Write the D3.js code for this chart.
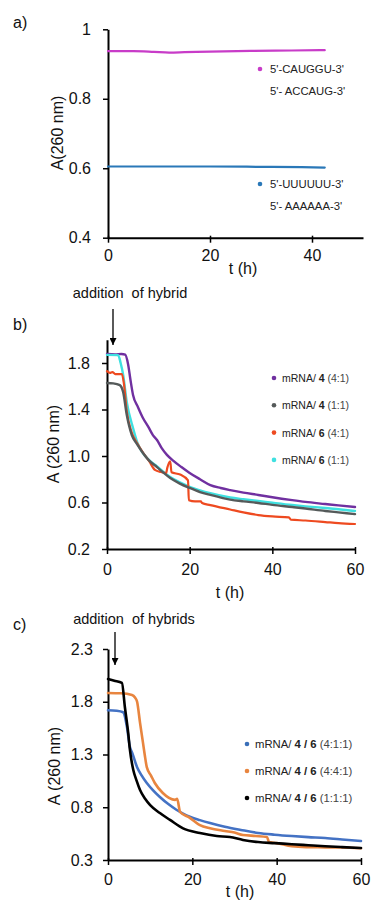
<!DOCTYPE html>
<html><head><meta charset="utf-8">
<script src="https://cdn.jsdelivr.net/npm/d3@7"></script>
<style>
body{margin:0;background:#fff;}
svg{display:block;font-family:"Liberation Sans",Arial,sans-serif;}
</style></head>
<body><svg id="c" width="372" height="901"></svg>
<script>
// ---------- DATA ----------
// Panel a
const aXTicks = [0, 20, 40];
const aYTicks = [0.4, 0.6, 0.8, 1];
const aMagenta = [[0,0.937],[5,0.937],[9,0.935],[12,0.933],[15,0.934],[20,0.936],[28,0.938],[36,0.939],[42.5,0.940]];
const aBlue = [[0,0.605],[10,0.605],[20,0.605],[30,0.604],[38,0.603],[42.5,0.602]];
const aLegend = [["5'-CAUGGU-3'","5'- ACCAUG-3'"],["5'-UUUUUU-3'","5'- AAAAAA-3'"]];

// Panel b
const bXTicks = [0, 20, 40, 60];
const bYTicks = [0.2, 0.6, 1.0, 1.4, 1.8];
const bPurple = [[0,1.877],[2,1.874],[3.5,1.878],[4.4,1.872],[5.1,1.79],[5.7,1.65],[6.3,1.525],[7.5,1.42],[8.7,1.327],[10,1.25],[11.1,1.18],[12.1,1.138],[13.2,1.07],[14.5,1.01],[16,0.96],[18,0.905],[20,0.854],[22.5,0.80],[25,0.75],[27.5,0.725],[29.8,0.707],[33,0.685],[36.6,0.665],[40,0.645],[44.8,0.62],[48,0.605],[52.8,0.587],[56,0.575],[60,0.561]];
const bGray = [[0,1.628],[1.5,1.625],[3.1,1.61],[3.9,1.55],[4.8,1.35],[6,1.18],[7.3,1.10],[8.7,1.026],[10.2,0.96],[12.1,0.905],[13.7,0.855],[15.3,0.81],[17.5,0.765],[20,0.725],[22.5,0.69],[25,0.665],[29.8,0.625],[33,0.61],[36.6,0.596],[40,0.58],[44.8,0.561],[48,0.548],[52.8,0.527],[56,0.515],[60,0.50]];
const bRed = [[0,1.73],[0.7,1.715],[1.3,1.722],[2,1.705],[3.6,1.705],[4.1,1.62],[4.8,1.38],[6,1.20],[7.3,1.11],[8.7,1.03],[10.2,0.955],[11.6,0.88],[13,0.862],[14.3,0.854],[14.6,0.90],[15.3,0.955],[15.6,0.86],[17.7,0.84],[19.6,0.79],[19.8,0.62],[21.3,0.61],[22.7,0.61],[23,0.596],[25,0.578],[29.8,0.54],[33,0.515],[36.6,0.492],[40,0.48],[44,0.472],[44.5,0.452],[48,0.445],[52.8,0.432],[56,0.423],[60,0.415]];
const bCyan = [[0,1.87],[2.7,1.868],[3.3,1.80],[3.9,1.70],[4.8,1.46],[6.3,1.24],[7.3,1.12],[8.4,1.04],[10.2,0.965],[12.1,0.91],[15.3,0.82],[17.5,0.775],[20,0.735],[22.5,0.705],[25,0.68],[29.8,0.643],[33,0.628],[36.6,0.613],[40,0.598],[44.8,0.578],[48,0.567],[52.8,0.553],[56,0.542],[60,0.527]];
const bLegend = [["mRNA/ ","4"," (4:1)"],["mRNA/ ","4"," (1:1)"],["mRNA/ ","6"," (4:1)"],["mRNA/ ","6"," (1:1)"]];

// Panel c
const cXTicks = [0, 20, 40, 60];
const cYTicks = [0.3, 0.8, 1.3, 1.8, 2.3];
const cBlue = [[0,1.72],[2,1.715],[3.6,1.70],[4.5,1.56],[5.2,1.37],[5.7,1.32],[6.9,1.18],[8,1.10],[9.2,1.03],[10.7,0.96],[12.3,0.897],[14.3,0.83],[16.3,0.774],[17.8,0.74],[19.4,0.71],[21.8,0.678],[24.2,0.65],[27.7,0.615],[31.5,0.585],[35.6,0.556],[39.5,0.54],[43.6,0.527],[47.5,0.517],[51.5,0.508],[55.5,0.495],[60,0.48]];
const cOrange = [[0,1.883],[3,1.88],[5.7,1.864],[6.4,1.84],[6.9,1.80],[7.6,1.60],[8.3,1.41],[8.7,1.30],[9.2,1.18],[10.2,1.10],[11.1,1.03],[13,0.935],[15.9,0.87],[16.4,0.88],[17.1,0.755],[19.4,0.70],[21.8,0.63],[24.2,0.60],[27.7,0.575],[30,0.56],[32,0.537],[35,0.528],[37.7,0.518],[38.2,0.47],[40,0.46],[43.6,0.43],[47,0.422],[51.5,0.42],[55.5,0.418],[60,0.412]];
const cBlack = [[0,2.016],[1.5,2.0],[3.3,1.978],[4,1.75],[4.8,1.50],[5.2,1.343],[6,1.153],[6.8,1.05],[7.6,0.963],[8.8,0.88],[10,0.82],[12.3,0.745],[14.7,0.68],[17.8,0.60],[21.8,0.556],[25.8,0.527],[28.9,0.518],[32,0.49],[35.6,0.47],[39.5,0.46],[43.6,0.45],[47.5,0.44],[51.5,0.43],[55.5,0.422],[60,0.414]];
const cLegend = [["mRNA/ ","4 / 6"," (4:1:1)"],["mRNA/ ","4 / 6"," (4:4:1)"],["mRNA/ ","4 / 6"," (1:1:1)"]];

// ---------- DRAW ----------
const svg = d3.select("#c");
const FONT = 16;

function panel(o){
  const g = svg.append("g");
  const x = d3.scaleLinear().domain(o.xd).range(o.xr);
  const y = d3.scaleLinear().domain(o.yd).range(o.yr);
  const ya = g.append("g").attr("transform",`translate(${o.xr[0]},0)`)
    .call(d3.axisLeft(y).tickValues(o.yt).tickFormat(o.yf).tickSize(5).tickPadding(o.yPad).tickSizeOuter(0));
  const xa = g.append("g").attr("transform",`translate(0,${o.yr[0]})`)
    .call(d3.axisBottom(x).tickValues(o.xt).tickFormat(d3.format("d")).tickSize(5).tickPadding(o.xPad).tickSizeOuter(0));
  [ya,xa].forEach(a=>{
    a.select(".domain").attr("stroke","#000").attr("stroke-width",2);
    a.selectAll(".tick line").attr("stroke","#000").attr("stroke-width",1.5);
    a.selectAll("text").attr("font-size",FONT).attr("fill","#111").attr("font-family","Liberation Sans, Arial, sans-serif");
  });
  xa.selectAll(".tick line").attr("y1",-2);
  const line = d3.line().curve(d3.curveMonotoneX).x(d=>x(d[0])).y(d=>y(d[1]));
  o.series.forEach(s=>{
    g.append("path").datum(s.data).attr("d",line).attr("fill","none")
      .attr("stroke",s.color).attr("stroke-width",s.w).attr("stroke-linejoin","round").attr("stroke-linecap","round");
  });
  g.append("text").attr("x",o.xTitle[0]).attr("y",o.xTitle[1]).attr("text-anchor","middle")
    .attr("font-size",FONT).attr("fill","#111").text("t (h)");
  g.append("text").attr("transform",`translate(${o.yTitle[0]},${o.yTitle[1]}) rotate(-90)`)
    .attr("text-anchor","middle").attr("dominant-baseline","central")
    .attr("font-size",FONT).attr("fill","#111").text(o.yLabel);
  g.append("text").attr("x",13).attr("y",o.label[1]).attr("font-size",FONT).attr("fill","#111").text(o.label[0]);
  return {x,y,g};
}

// Panel a
const pa = panel({xd:[0,50],xr:[108,363],yd:[0.4,1],yr:[237.7,29.3],xt:aXTicks,yt:aYTicks,
  yf:d=>d===1?"1":d3.format(".1f")(d), yPad:12, xPad:7,
  series:[{data:aMagenta,color:"#c83cc8",w:2.2},{data:aBlue,color:"#2a78b8",w:2.2}],
  xTitle:[243,274], yTitle:[57,133], yLabel:"A(260 nm)", label:["a)",28]});
[[aLegend[0],"#c83cc8",69],[aLegend[1],"#2a78b8",184]].forEach(([t,c,yy])=>{
  pa.g.append("circle").attr("cx",260).attr("cy",yy).attr("r",2.3).attr("fill",c);
  t.forEach((s,i)=>pa.g.append("text").attr("x",270).attr("y",yy+i*22).attr("dominant-baseline","central")
    .attr("font-size",11.3).attr("fill","#222").text(s));
});

// Panel b
const pb = panel({xd:[0,60],xr:[107,355],yd:[0.2,2.0],yr:[549,339.75],xt:bXTicks,yt:bYTicks,
  yf:d3.format(".1f"), yPad:12, xPad:10,
  series:[{data:bPurple,color:"#7030a0",w:2.4},{data:bCyan,color:"#3fe0e0",w:2.4},{data:bRed,color:"#ee4a20",w:2.2},{data:bGray,color:"#555a5a",w:2.4}],
  xTitle:[230,598], yTitle:[53,444], yLabel:"A (260 nm)", label:["b)",330]});
const bCols = ["#7030a0","#555a5a","#ee4a20","#3fe0e0"];
bLegend.forEach((t,i)=>{
  const yy = 378 + i*27.3;
  pb.g.append("circle").attr("cx",274).attr("cy",yy).attr("r",2.3).attr("fill",bCols[i]);
  const tx = pb.g.append("text").attr("x",282).attr("y",yy).attr("dominant-baseline","central").attr("font-size",10.5).attr("fill","#222");
  tx.append("tspan").text(t[0]);
  tx.append("tspan").attr("font-weight","bold").text(t[1]);
  tx.append("tspan").attr("fill","#444").text(t[2]);
});
pb.g.append("text").attr("x",130).attr("y",298).attr("text-anchor","middle").attr("font-size",14.5).attr("fill","#111").text("addition  of hybrid").style("white-space","pre");

// Panel c
const pc = panel({xd:[0,60],xr:[108,361],yd:[0.3,2.3],yr:[860,649],xt:cXTicks,yt:cYTicks,
  yf:d3.format(".1f"), yPad:10, xPad:9,
  series:[{data:cBlue,color:"#4472c4",w:2.6},{data:cOrange,color:"#e8853f",w:2.6},{data:cBlack,color:"#000",w:2.6}],
  xTitle:[240,897], yTitle:[54,766], yLabel:"A (260 nm)", label:["c)",630]});
const cCols = ["#3a6fb8","#e8853f","#000"];
cLegend.forEach((t,i)=>{
  const yy = 744 + i*27;
  pc.g.append("circle").attr("cx",247).attr("cy",yy).attr("r",2.3).attr("fill",cCols[i]);
  const tx = pc.g.append("text").attr("x",255).attr("y",yy).attr("dominant-baseline","central").attr("font-size",11.3).attr("fill","#222");
  tx.append("tspan").text(t[0]);
  tx.append("tspan").attr("font-weight","bold").text(t[1]);
  tx.append("tspan").attr("fill","#444").text(t[2]);
});
pc.g.append("text").attr("x",134).attr("y",624).attr("text-anchor","middle").attr("font-size",14.5).attr("fill","#111").text("addition  of hybrids").style("white-space","pre");

// arrows
svg.append("defs").append("marker").attr("id","ah").attr("viewBox","0 0 10 10").attr("refX",10).attr("refY",5)
  .attr("markerWidth",7).attr("markerHeight",7).attr("markerUnits","userSpaceOnUse").attr("orient","auto")
  .append("path").attr("d","M0,0L10,5L0,10Z").attr("fill","#000");
[[113,309,345],[115,632,665]].forEach(([ax,y1,y2])=>{
  svg.append("line").attr("x1",ax).attr("x2",ax).attr("y1",y1).attr("y2",y2)
    .attr("stroke","#000").attr("stroke-width",1.3).attr("marker-end","url(#ah)");
});
</script></body></html>
